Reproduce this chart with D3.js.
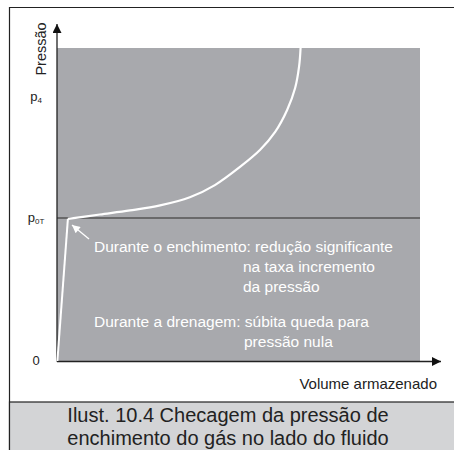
<!DOCTYPE html>
<html>
<head>
<meta charset="utf-8">
<script src="https://cdn.jsdelivr.net/npm/d3@7"></script>
<style>
  html, body { margin: 0; padding: 0; background: #fff; }
  svg { display: block; font-family: "Liberation Sans", Arial, sans-serif; }
</style>
</head>
<body>
<svg id="chart" width="454" height="450"></svg>
<script>
// Gas-side pre-charge pressure check: pressure vs. stored volume
const drainVolume = [0.1, 3.0];
const drainPressure = [0, 45.4];
const fillVolume = [3.0, 11.8, 20.1, 28.4, 36.6, 43.5, 50.4, 55.9, 60.1, 63.4, 65.6, 66.7, 67.1];
const fillPressure = [45.4, 46.8, 48.1, 49.7, 52.3, 56.2, 62.0, 67.4, 73.2, 80.2, 87.2, 94.2, 100];
const pressureTicks = [0, 45.7, 84.3];
const pressureTickLabels = ["0", "p0T", "p4"];
const axisTitles = ["Pressão", "Volume armazenado"];
const noteFill = ["Durante o enchimento: redução significante", "na taxa incremento", "da pressão"];
const noteDrain = ["Durante a drenagem: súbita queda para", "pressão nula"];
const caption = ["Ilust. 10.4 Checagem da pressão de", "enchimento do gás no lado do fluido"];

const svg = d3.select("#chart");
const x = d3.scaleLinear().domain([0, 100]).range([57, 420]);
const y = d3.scaleLinear().domain([0, 100]).range([361, 48]);

// outer frame
svg.append("path")
  .attr("d", "M9.5,460 V7.5 H460")
  .attr("fill", "none").attr("stroke", "#222").attr("stroke-width", 1.2);

// caption band
svg.append("rect").attr("x", 9.5).attr("y", 402).attr("width", 450).attr("height", 60)
  .attr("fill", "#d3d4d6").attr("stroke", "#222").attr("stroke-width", 1.2);
svg.selectAll("text.caption").data(caption).join("text")
  .attr("class", "caption")
  .attr("x", 228).attr("y", (d, i) => 422 + i * 23)
  .attr("text-anchor", "middle").attr("font-size", 20).attr("fill", "#222")
  .text(d => d);

// plotting area
svg.append("rect")
  .attr("x", x(0)).attr("y", y(100))
  .attr("width", x(100) - x(0)).attr("height", y(0) - y(100))
  .attr("fill", "#a8a9ad");

// p0T reference line
svg.append("line")
  .attr("x1", x(0)).attr("x2", x(100))
  .attr("y1", y(pressureTicks[1])).attr("y2", y(pressureTicks[1]))
  .attr("stroke", "#555").attr("stroke-width", 1.5);

// axes with arrowheads
const defs = svg.append("defs");
defs.append("marker").attr("id", "axArrow")
  .attr("viewBox", "0 0 10 10").attr("refX", 10).attr("refY", 5)
  .attr("markerUnits", "userSpaceOnUse").attr("markerWidth", 15).attr("markerHeight", 9)
  .attr("orient", "auto")
  .append("path").attr("d", "M0,0 L10,5 L0,10 Z").attr("fill", "#111");
defs.append("marker").attr("id", "noteArrow")
  .attr("viewBox", "0 0 10 10").attr("refX", 10).attr("refY", 5)
  .attr("markerUnits", "userSpaceOnUse").attr("markerWidth", 12).attr("markerHeight", 8)
  .attr("orient", "auto")
  .append("path").attr("d", "M0,0 L10,5 L0,10 Z").attr("fill", "#fff");

svg.append("line")
  .attr("x1", x(0)).attr("y1", y(0) + 0.5).attr("x2", x(0)).attr("y2", 24)
  .attr("stroke", "#222").attr("stroke-width", 1.3).attr("marker-end", "url(#axArrow)");
svg.append("line")
  .attr("x1", x(0)).attr("y1", y(0) + 0.5).attr("x2", 441).attr("y2", y(0) + 0.5)
  .attr("stroke", "#222").attr("stroke-width", 1.3).attr("marker-end", "url(#axArrow)");

// tick labels on the pressure axis
const tickG = svg.append("g").attr("font-size", 13).attr("fill", "#222");
pressureTicks.forEach((v, i) => {
  const t = tickG.append("text").attr("x", 36).attr("y", y(v) + 4).attr("text-anchor", "middle");
  const lab = pressureTickLabels[i];
  if (lab.length > 1) {
    t.append("tspan").text(lab[0]);
    t.append("tspan").attr("font-size", 8).attr("dy", 2).text(lab.slice(1).toUpperCase());
  } else {
    t.text(lab);
  }
});

// axis titles
svg.append("text")
  .attr("transform", `translate(46,49) rotate(-90)`)
  .attr("text-anchor", "middle").attr("font-size", 14.5).attr("fill", "#222")
  .text(axisTitles[0]);
svg.append("text")
  .attr("x", 437).attr("y", 389).attr("text-anchor", "end")
  .attr("font-size", 15).attr("fill", "#222")
  .text(axisTitles[1]);

// characteristic curve
svg.append("path")
  .datum(d3.zip(drainVolume, drainPressure))
  .attr("d", d3.line().x(d => x(d[0])).y(d => y(d[1])))
  .attr("fill", "none").attr("stroke", "#fff").attr("stroke-width", 2);
svg.append("path")
  .datum(d3.zip(fillVolume, fillPressure))
  .attr("d", d3.line().x(d => x(d[0])).y(d => y(d[1])).curve(d3.curveCatmullRom.alpha(0.5)))
  .attr("fill", "none").attr("stroke", "#fff").attr("stroke-width", 2.2);

// annotations
svg.append("line")
  .attr("x1", 89).attr("y1", 239).attr("x2", 72).attr("y2", 225)
  .attr("stroke", "#fff").attr("stroke-width", 1.3).attr("marker-end", "url(#noteArrow)");
const noteG = svg.append("g").attr("font-size", 15.5).attr("fill", "#fff");
noteG.append("text").attr("x", 94).attr("y", 252).text(noteFill[0]);
noteG.append("text").attr("x", 243).attr("y", 272).text(noteFill[1]);
noteG.append("text").attr("x", 243).attr("y", 292).text(noteFill[2]);
noteG.append("text").attr("x", 94).attr("y", 327).text(noteDrain[0]);
noteG.append("text").attr("x", 244).attr("y", 347).text(noteDrain[1]);
</script>
</body>
</html>
